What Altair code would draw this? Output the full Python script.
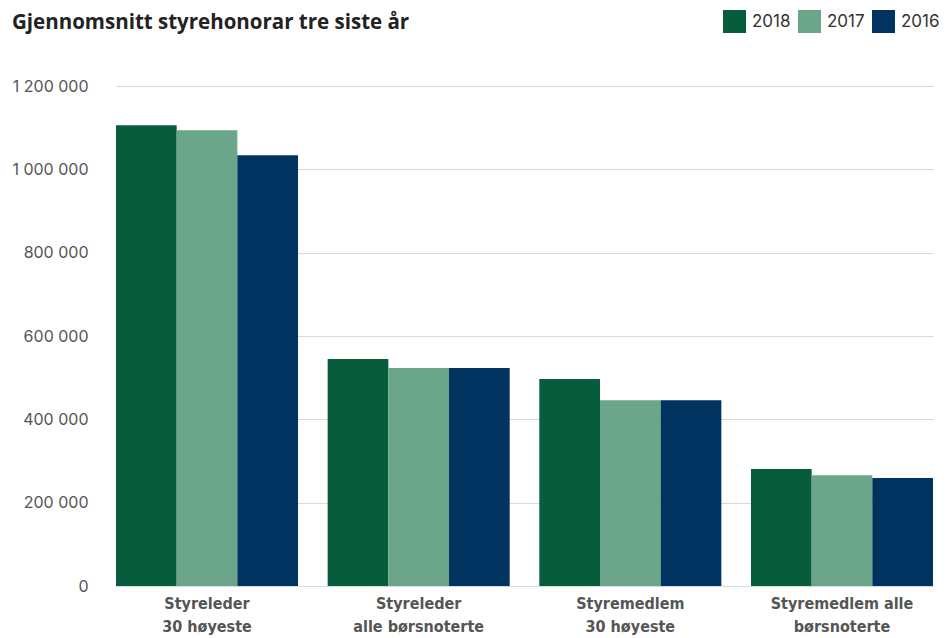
import altair as alt
import pandas as pd

categories = ["Styreleder\n30 høyeste", "Styreleder\nalle børsnoterte",
              "Styremedlem\n30 høyeste", "Styremedlem alle\nbørsnoterte"]
years = ["2018", "2017", "2016"]
v2018 = [1106000, 545000, 497000, 281000]
v2017 = [1094000, 523000, 446000, 266000]
v2016 = [1034000, 523000, 446000, 259000]
colors = ["#065c3b", "#6ba58a", "#003360"]

rows = []
for i, c in enumerate(categories):
    for y, vals in zip(years, [v2018, v2017, v2016]):
        rows.append({"kategori": c, "år": y, "verdi": vals[i]})
df = pd.DataFrame(rows)

chart = alt.Chart(df).mark_bar().encode(
    x=alt.X("kategori:N", sort=categories, title=None,
            scale=alt.Scale(range=[16, 833], paddingInner=0.14, paddingOuter=0),
            axis=alt.Axis(labelExpr="split(datum.label, '\\n')", labelAngle=0,
                          labelFont="Liberation Sans Narrow, DejaVu Sans Condensed, Roboto",
                          labelFontWeight="bold", labelFontSize=16, labelColor="#555555",
                          labelLineHeight=23, labelPadding=9, ticks=False, domain=False,
                          labelBaseline="top")),
    xOffset=alt.XOffset("år:N", sort=years, scale=alt.Scale(paddingInner=0, paddingOuter=0)),
    y=alt.Y("verdi:Q", title=None,
            scale=alt.Scale(domain=[0, 1200000]),
            axis=alt.Axis(values=[0, 200000, 400000, 600000, 800000, 1000000, 1200000],
                          labelExpr="replace(replace(format(datum.value, ','), ',', ' '), ',', ' ')",
                          labelFont="Inter", labelFontSize=16, labelColor="#555555",
                          labelPadding=12, ticks=False, domain=False,
                          grid=True, gridColor="#d9d9d9")),
    color=alt.Color("år:N", sort=years, scale=alt.Scale(domain=years, range=colors),
                    legend=alt.Legend(title=None, orient="none", direction="horizontal",
                                      legendX=623, legendY=-76, symbolType="square",
                                      symbolSize=529, symbolStrokeWidth=0, symbolOpacity=1,
                                      labelFont="Inter", labelFontSize=17, labelColor="#333333",
                                      labelOffset=6, columnPadding=7)),
).properties(
    width=839, height=500,
    title=alt.TitleParams("Gjennomsnitt styrehonorar tre siste år", anchor="start",
                          frame="group",
                          font="Open Sans", fontSize=20.5, fontWeight="bold", color="#222222",
                          dx=-88, offset=0, dy=23),
    autosize=alt.AutoSizeParams(type="none"),
    padding={"left": 92, "top": 78, "right": 0, "bottom": 52},
).configure_view(stroke=None)

chart.save("out.html", embed_options={"renderer": "svg", "actions": False})
